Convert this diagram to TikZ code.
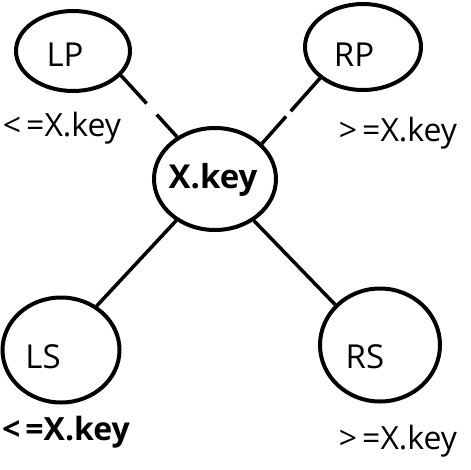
\documentclass[tikz,border=0pt]{standalone}
\usepackage{fontspec}
\setmainfont{Open Sans}
\usetikzlibrary{shapes.geometric}
\begin{document}
\begin{tikzpicture}[x=1pt,y=-1pt,
  ell/.style={ellipse,draw,line width=4pt,inner sep=0pt},
  ntext/.style={font=\fontsize{33}{38}\selectfont},
  lbl/.style={font=\fontsize{32}{37}\selectfont,inner sep=0pt},
  conn/.style={line width=3.5pt}]
\useasboundingbox (0,0) rectangle (471,469);
\node[ell,minimum width=114pt,minimum height=80pt,label={[ntext,xshift=-8pt,yshift=-4pt]center:LP}] (LP) at (73,51) {};
\node[ell,minimum width=116pt,minimum height=86pt,label={[ntext,xshift=-9pt,yshift=-8pt]center:RP}] (RP) at (363,47) {};
\node[ell,minimum width=122pt,minimum height=102pt,label={[ntext,font=\fontsize{33}{38}\selectfont\bfseries,xshift=-2pt,yshift=-1pt]center:X.key}] (X) at (215,179) {};
\node[ell,minimum width=117pt,minimum height=105pt,label={[ntext,xshift=-18pt,yshift=-7pt]center:LS}] (LS) at (61,350) {};
\node[ell,minimum width=120pt,minimum height=113pt,label={[ntext,xshift=-15pt,yshift=-12pt]center:RS}] (RS) at (380,345) {};
\node[lbl] (l1) at (62,128) {<\hspace{5pt}=X.key};
\node[lbl] (l2) at (398,133) {>\hspace{5pt}=X.key};
\node[lbl,font=\fontsize{32}{37}\selectfont\bfseries] (l3) at (66,432) {<\hspace{5pt}=X.key};
\node[lbl] (l4) at (398,441) {>\hspace{5pt}=X.key};
\draw[conn,dash pattern=on 38pt off 15pt on 60pt] (LP.-27) -- (X.132);
\draw[conn,dash pattern=on 44pt off 7pt on 60pt] (RP.216) -- (X.37);
\draw[conn] (LS.51) -- (X.227);
\draw[conn] (RS.138) -- (X.-47);
\end{tikzpicture}
\end{document}
